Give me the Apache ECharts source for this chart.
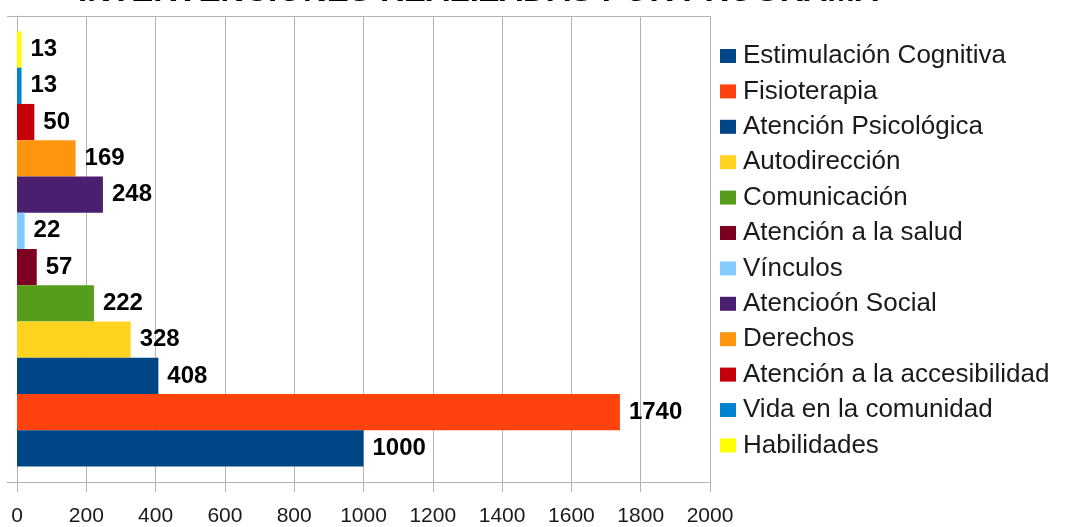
<!DOCTYPE html>
<html>
<head>
<meta charset="utf-8">
<script src="https://cdn.jsdelivr.net/npm/echarts@6/dist/echarts.min.js"></script>
<style>
  html, body { margin: 0; padding: 0; background: #fff; }
  #chart { width: 1067px; height: 527px; }
</style>
</head>
<body>
<div id="chart"></div>
<script>
// series names in legend order (first one is the lowest bar)
const programas = [
  'Estimulación Cognitiva',
  'Fisioterapia',
  'Atención Psicológica',
  'Autodirección',
  'Comunicación',
  'Atención a la salud',
  'Vínculos',
  'Atencioón Social',
  'Derechos',
  'Atención a la accesibilidad',
  'Vida en la comunidad',
  'Habilidades'
];
const intervenciones = [1000, 1740, 408, 328, 222, 57, 22, 248, 169, 50, 13, 13];
const colores = [
  '#004586', '#ff420e', '#004586', '#ffd320', '#579d1c', '#7e0021',
  '#83caff', '#4b1f6f', '#ff950e', '#c5000b', '#0084d1', '#ffff00'
];
const xTicks = [0, 200, 400, 600, 800, 1000, 1200, 1400, 1600, 1800, 2000];
const titulo = 'INTERVENCIONES REALIZADAS POR PROGRAMA';

const chart = echarts.init(document.getElementById('chart'));
const grisEje = '#b3b3b3';

// echarts stacks the first series on top, so feed them in reverse
const series = programas.map((nombre, i) => ({
  name: nombre,
  type: 'bar',
  data: [intervenciones[i]],
  barGap: 0,
  barCategoryGap: '6.6%',
  itemStyle: { color: colores[i] },
  label: {
    show: true,
    position: 'right',
    distance: 9,
    color: '#000',
    fontFamily: 'Liberation Sans',
    fontWeight: 'bold',
    fontSize: 24
  }
})).reverse();

const option = {
  animation: false,
  backgroundColor: '#fff',
  title: {
    text: titulo,
    left: 78,
    top: -25,
    padding: 0,
    textStyle: {
      fontFamily: 'Liberation Sans',
      fontWeight: 'bold',
      fontSize: 33,
      color: '#000'
    }
  },
  legend: {
    data: programas,
    orient: 'vertical',
    left: 720,
    top: 43,
    padding: 0,
    itemWidth: 16,
    itemHeight: 14,
    itemGap: 9.4,
    icon: 'rect',
    textStyle: {
      fontFamily: 'Liberation Sans',
      fontSize: 26,
      lineHeight: 25,
      color: '#1a1a1a',
      padding: [0, 0, 0, 2]
    }
  },
  grid: {
    left: 17,
    right: 357,
    top: 16,
    bottom: 44,
    containLabel: false
  },
  xAxis: {
    type: 'value',
    min: xTicks[0],
    max: xTicks[xTicks.length - 1],
    interval: xTicks[1] - xTicks[0],
    axisLine: { show: true, lineStyle: { color: grisEje, width: 1 } },
    axisTick: { show: true, length: 10, lineStyle: { color: grisEje } },
    splitLine: { show: true, lineStyle: { color: grisEje, width: 1 } },
    axisLabel: {
      margin: 24,
      fontFamily: 'Liberation Sans',
      fontSize: 21,
      color: '#1a1a1a',
      formatter: v => String(v)
    }
  },
  yAxis: {
    type: 'category',
    data: [''],
    axisLine: { show: true, lineStyle: { color: grisEje, width: 1 } },
    axisTick: { show: true, length: 10, lineStyle: { color: grisEje } },
    splitLine: { show: true, lineStyle: { color: grisEje, width: 1 } },
    axisLabel: { show: false }
  },
  series: series
};

chart.setOption(option);
</script>
</body>
</html>
